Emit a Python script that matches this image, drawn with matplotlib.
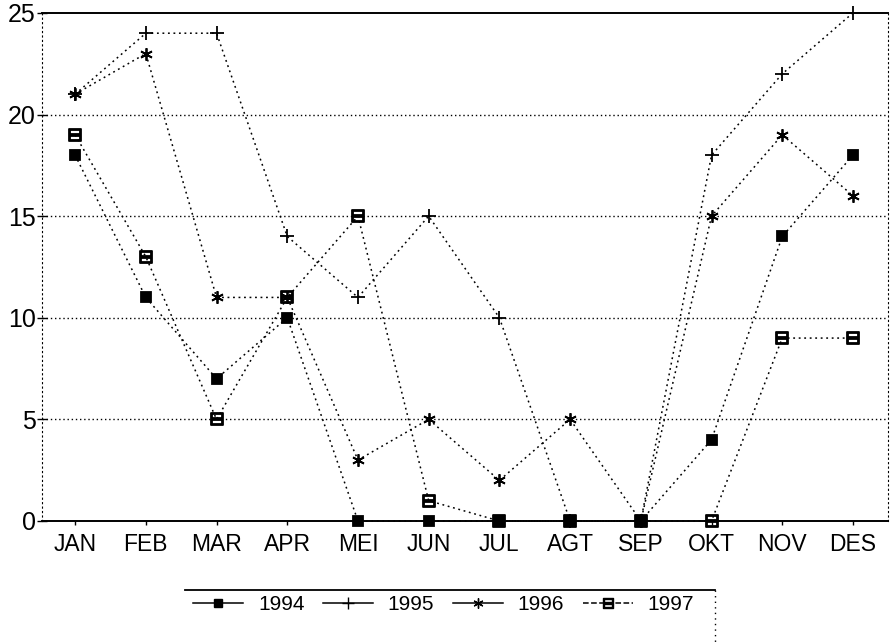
import matplotlib
matplotlib.use("Agg")
import matplotlib.pyplot as plt
from matplotlib.lines import Line2D

plt.rcParams['font.family'] = ['Liberation Sans', 'DejaVu Sans']

months = ["JAN", "FEB", "MAR", "APR", "MEI", "JUN", "JUL", "AGT", "SEP", "OKT", "NOV", "DES"]
years = ["1994", "1995", "1996", "1997"]
v1994 = [18, 11, 7, 10, 0, 0, 0, 0, 0, 4, 14, 18]
v1995 = [21, 24, 24, 14, 11, 15, 10, 0, 0, 18, 22, 25]
v1996 = [21, 23, 11, 11, 3, 5, 2, 5, 0, 15, 19, 16]
v1997 = [19, 13, 5, 11, 15, 1, 0, 0, 0, 0, 9, 9]
series = [v1994, v1995, v1996, v1997]

markers = ['s', '+', (6, 2, 0), '$⊟$']
msizes = [6.5, 10, 9, 9]
legend_ls = ['-', '-', '-', '--']

fig = plt.figure(figsize=(8.91, 6.44), dpi=100)
ax = fig.add_axes([0.047, 0.191, 0.950, 0.789])

x = list(range(len(months)))
for vals, m, ms in zip(series, markers, msizes):
    ax.plot(x, vals, color='black', lw=1.1, linestyle=(0, (1.2, 2.4)),
            marker=m, markersize=ms, markeredgewidth=1.3,
            markerfacecolor='black', markeredgecolor='black', clip_on=False)

ax.set_xlim(-0.47, 11.5)
ax.set_ylim(0, 25)
ax.set_xticks(x)
ax.set_xticklabels(months, fontsize=16.5)
ax.set_yticks([0, 5, 10, 15, 20, 25])
ax.tick_params(axis='y', direction='inout', length=7, width=1, labelsize=18, pad=1)
ax.tick_params(axis='x', direction='out', length=3, width=1, pad=6)

for y in [5, 10, 15, 20]:
    ax.axhline(y, color='black', lw=1.0, linestyle=(0, (1, 2)), zorder=0)

ax.spines['top'].set_linewidth(1.4)
ax.spines['bottom'].set_linewidth(1.4)
ax.spines['left'].set_linestyle((0, (1, 3)))
ax.spines['right'].set_linestyle((0, (1, 3)))

handles = [Line2D([], [], color='black', lw=1.1, linestyle=ls, marker=m,
                  markersize=ms * 0.8, markerfacecolor='black', markeredgecolor='black')
           for ls, m, ms in zip(legend_ls, markers, msizes)]
fig.legend(handles, years, loc='center', bbox_to_anchor=(0.498, 0.061), ncol=4,
           frameon=False, fontsize=15, handlelength=2.4, columnspacing=0.9, handletextpad=0.7)

fig.add_artist(Line2D([0.208, 0.802], [0.084, 0.084], color='black', lw=1.3))
fig.add_artist(Line2D([0.802, 0.802], [0.084, 0.0], color='black', lw=1, linestyle=(0, (1, 3))))

fig.savefig("out.png", dpi=100)
